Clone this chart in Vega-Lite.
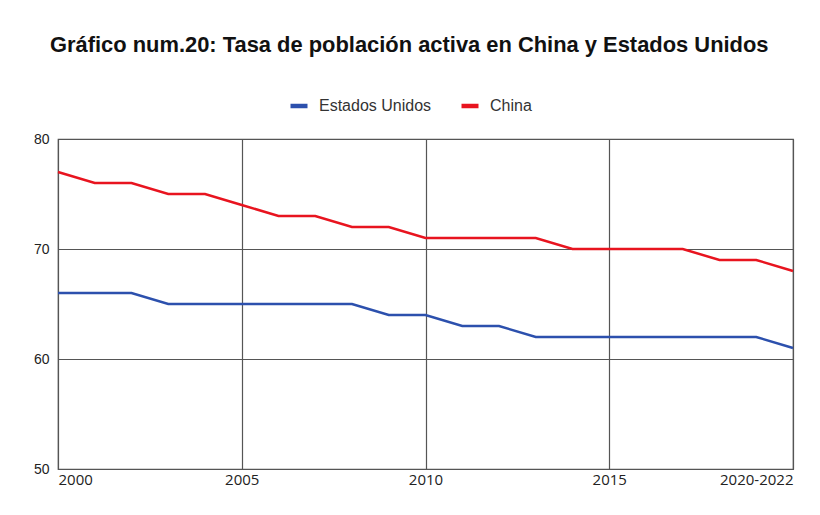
{
  "$schema": "https://vega.github.io/schema/vega-lite/v6.json",
  "autosize": "none",
  "width": 735,
  "height": 330,
  "padding": {"left": 58, "top": 139, "right": 27, "bottom": 46},
  "background": "white",
  "title": {
    "text": "Gráfico num.20: Tasa de población activa en China y Estados Unidos",
    "anchor": "start",
    "frame": "group",
    "dx": -8,
    "offset": 38,
    "font": "Liberation Sans",
    "fontSize": 21.9,
    "fontWeight": "bold",
    "color": "#111111"
  },
  "data": {
    "values": [
      {"year": 2000, "serie": "Estados Unidos", "tasa": 66},
      {"year": 2001, "serie": "Estados Unidos", "tasa": 66},
      {"year": 2002, "serie": "Estados Unidos", "tasa": 66},
      {"year": 2003, "serie": "Estados Unidos", "tasa": 65},
      {"year": 2004, "serie": "Estados Unidos", "tasa": 65},
      {"year": 2005, "serie": "Estados Unidos", "tasa": 65},
      {"year": 2006, "serie": "Estados Unidos", "tasa": 65},
      {"year": 2007, "serie": "Estados Unidos", "tasa": 65},
      {"year": 2008, "serie": "Estados Unidos", "tasa": 65},
      {"year": 2009, "serie": "Estados Unidos", "tasa": 64},
      {"year": 2010, "serie": "Estados Unidos", "tasa": 64},
      {"year": 2011, "serie": "Estados Unidos", "tasa": 63},
      {"year": 2012, "serie": "Estados Unidos", "tasa": 63},
      {"year": 2013, "serie": "Estados Unidos", "tasa": 62},
      {"year": 2014, "serie": "Estados Unidos", "tasa": 62},
      {"year": 2015, "serie": "Estados Unidos", "tasa": 62},
      {"year": 2016, "serie": "Estados Unidos", "tasa": 62},
      {"year": 2017, "serie": "Estados Unidos", "tasa": 62},
      {"year": 2018, "serie": "Estados Unidos", "tasa": 62},
      {"year": 2019, "serie": "Estados Unidos", "tasa": 62},
      {"year": 2020, "serie": "Estados Unidos", "tasa": 61},
      {"year": 2000, "serie": "China", "tasa": 77},
      {"year": 2001, "serie": "China", "tasa": 76},
      {"year": 2002, "serie": "China", "tasa": 76},
      {"year": 2003, "serie": "China", "tasa": 75},
      {"year": 2004, "serie": "China", "tasa": 75},
      {"year": 2005, "serie": "China", "tasa": 74},
      {"year": 2006, "serie": "China", "tasa": 73},
      {"year": 2007, "serie": "China", "tasa": 73},
      {"year": 2008, "serie": "China", "tasa": 72},
      {"year": 2009, "serie": "China", "tasa": 72},
      {"year": 2010, "serie": "China", "tasa": 71},
      {"year": 2011, "serie": "China", "tasa": 71},
      {"year": 2012, "serie": "China", "tasa": 71},
      {"year": 2013, "serie": "China", "tasa": 71},
      {"year": 2014, "serie": "China", "tasa": 70},
      {"year": 2015, "serie": "China", "tasa": 70},
      {"year": 2016, "serie": "China", "tasa": 70},
      {"year": 2017, "serie": "China", "tasa": 70},
      {"year": 2018, "serie": "China", "tasa": 69},
      {"year": 2019, "serie": "China", "tasa": 69},
      {"year": 2020, "serie": "China", "tasa": 68}
    ]
  },
  "mark": {"type": "line", "strokeWidth": 2.5},
  "encoding": {
    "x": {
      "field": "year",
      "type": "quantitative",
      "scale": {"domain": [2000, 2020], "nice": false, "zero": false},
      "axis": {
        "title": null,
        "values": [2000, 2005, 2010, 2015, 2020],
        "format": "d",
        "labelExpr": "datum.value == 2020 ? '2020-2022' : datum.label",
        "labelFlush": true,
        "labelFont": "Open Sans",
        "labelFontSize": 15,
        "labelColor": "#222222",
        "labelPadding": 3,
        "ticks": false,
        "domain": false,
        "grid": true,
        "gridColor": "#555555",
        "gridWidth": 1.2,
        "gridOpacity": 1
      }
    },
    "y": {
      "field": "tasa",
      "type": "quantitative",
      "scale": {"domain": [50, 80], "nice": false, "zero": false},
      "axis": {
        "title": null,
        "values": [50, 60, 70, 80],
        "labelFont": "Liberation Sans",
        "labelFontSize": 14,
        "labelColor": "#222222",
        "labelPadding": 9,
        "ticks": false,
        "domain": false,
        "grid": true,
        "gridColor": "#555555",
        "gridWidth": 1.2,
        "gridOpacity": 1
      }
    },
    "color": {
      "field": "serie",
      "type": "nominal",
      "scale": {"domain": ["Estados Unidos", "China"], "range": ["#2c50ad", "#e8141f"]},
      "legend": {
        "title": null,
        "orient": "none",
        "legendX": 230,
        "legendY": -44,
        "direction": "horizontal",
        "symbolType": "stroke",
        "symbolStrokeWidth": 4.5,
        "symbolSize": 289,
        "labelOffset": 9,
        "labelFont": "Liberation Sans",
        "labelFontSize": 16,
        "labelColor": "#333333",
        "columnPadding": 20
      }
    }
  },
  "config": {"view": {"stroke": "#555555", "strokeWidth": 1.2}}
}
